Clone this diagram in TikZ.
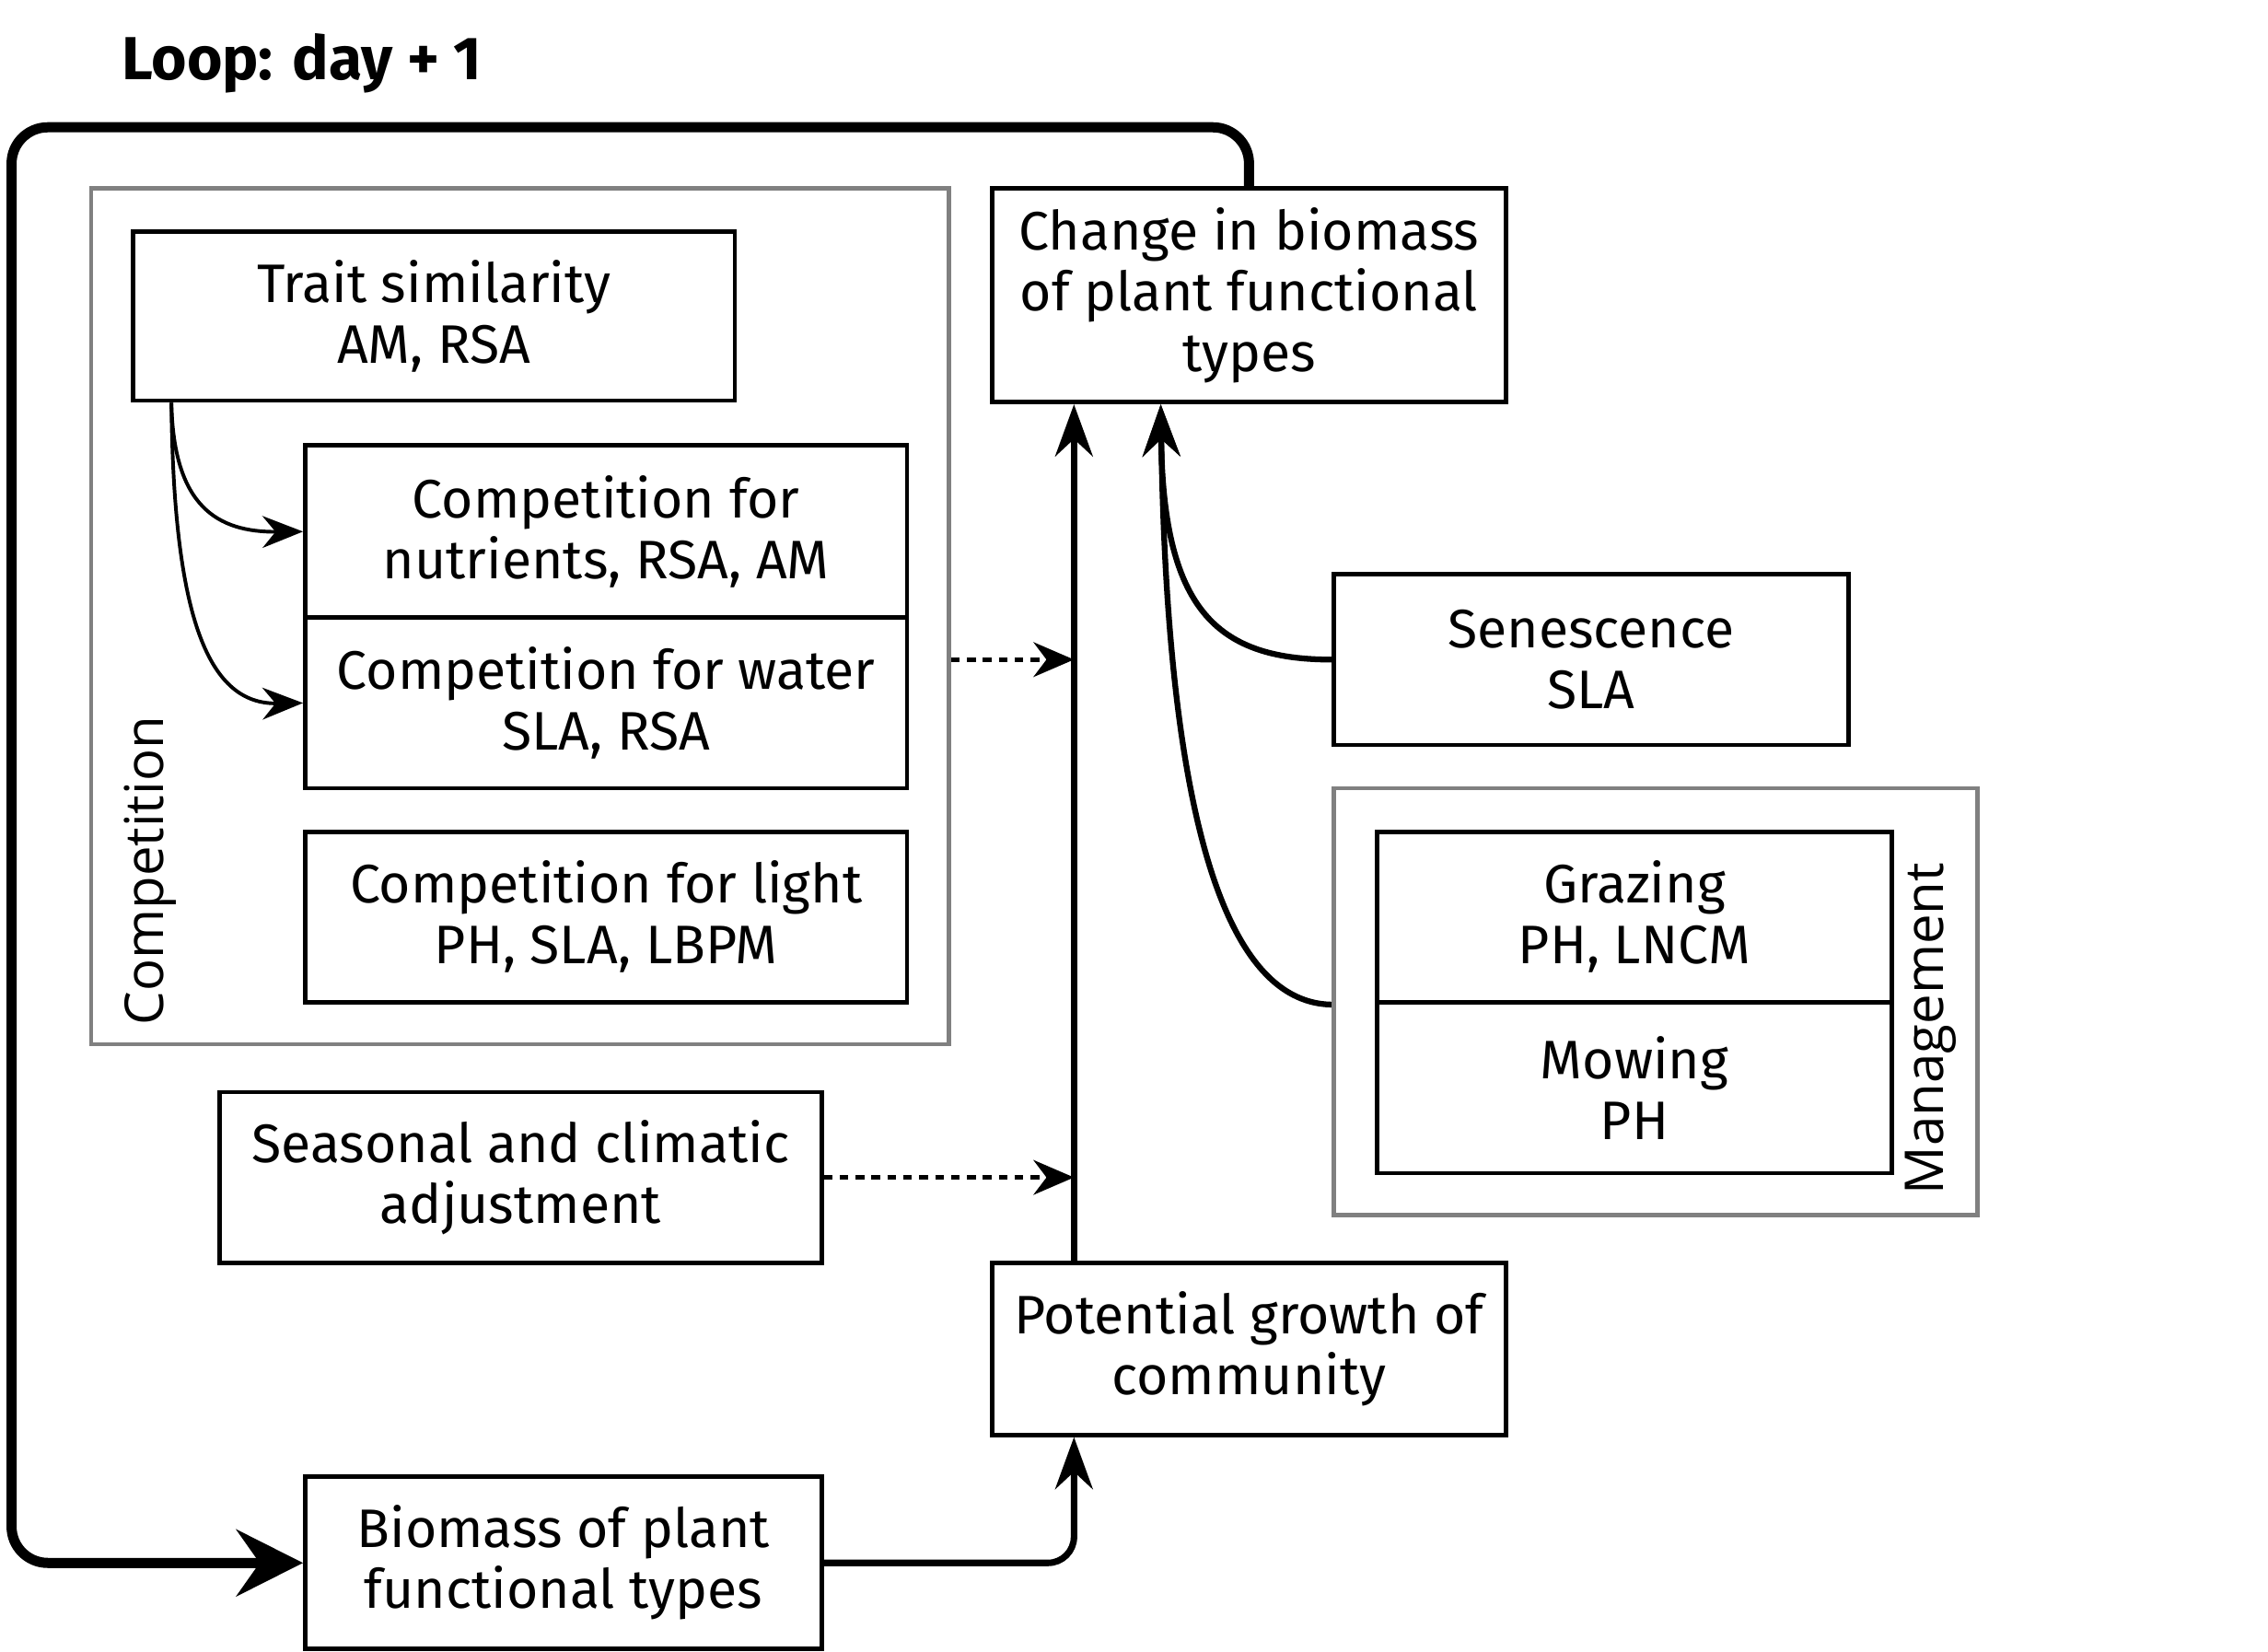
\documentclass[tikz,border=0pt]{standalone}
\usepackage{fontspec}
\setmainfont{Fira Sans}
\newfontfamily\labelfont{Open Sans}
\usetikzlibrary{arrows.meta}
\begin{document}
\begin{tikzpicture}[x=1pt,y=-1pt,
  box/.style={draw, line width=3pt, align=center, inner sep=0pt,
    font=\fontsize{37.5}{42}\selectfont},
  grp/.style={draw=black!50, line width=3pt, inner sep=0pt},
  glabel/.style={rotate=90, anchor=west, inner sep=0pt, font=\labelfont\fontsize{37}{42}\selectfont},
  mainarr/.style={line width=4.5pt, -{Stealth[length=36pt, width=26pt, inset=12pt]}},
  curvarr/.style={line width=4pt, -{Stealth[length=36pt, width=26pt, inset=12pt]}},
  thinarr/.style={line width=2.5pt, -{Stealth[length=28pt, width=22pt, inset=9pt]}},
  dotarr/.style={line width=3pt, dash pattern=on 6pt off 5pt, -{Stealth[length=28pt, width=24pt, inset=9pt]}},
  looparr/.style={line width=7pt, rounded corners=25pt, -{Stealth[length=46pt, width=46pt, inset=16pt]}}]
\useasboundingbox (0,0) rectangle (1568,1142);

% title
\node[anchor=west, inner sep=0pt, font=\bfseries\fontsize{42}{48}\selectfont] (title) at (84,44) {Loop: day + 1};

% groups
\node[grp, minimum width=593pt, minimum height=592pt] (comp) at (359.5,426) {};
\node[grp, minimum width=445pt, minimum height=295pt] (mgmt) at (1144.5,692.5) {};
\node[glabel] (complabel) at (104,709) {Competition};
\node[glabel] (mgmtlabel) at (1335,826) {Management};

% boxes
\node[box, minimum width=416pt, minimum height=117pt] (trait) at (300,218.5) {Trait similarity\\AM, RSA};
\node[box, minimum width=416pt, minimum height=119pt] (nutr) at (419,367.5) {Competition for\\nutrients, RSA, AM};
\node[box, minimum width=416pt, minimum height=118pt] (water) at (419,486) {Competition for water\\SLA, RSA};
\node[box, minimum width=416pt, minimum height=118pt] (light) at (419,634) {Competition for light\\PH, SLA, LBPM};
\node[box, minimum width=416pt, minimum height=118pt] (season) at (360,814) {Seasonal and climatic\\adjustment};
\node[box, minimum width=355pt, minimum height=148pt] (change) at (863.5,204) {Change in biomass\\of plant functional\\types};
\node[box, minimum width=355pt, minimum height=119pt] (potential) at (863.5,932.5) {Potential growth of\\community};
\node[box, minimum width=357pt, minimum height=119pt] (biomass) at (389.5,1080.5) {Biomass of plant\\functional types};
\node[box, minimum width=356pt, minimum height=118pt] (sen) at (1100,456) {Senescence\\SLA};
\node[box, minimum width=356pt, minimum height=118pt] (graz) at (1130,634) {Grazing\\PH, LNCM};
\node[box, minimum width=356pt, minimum height=118pt] (mow) at (1130,752) {Mowing\\PH};

% helper coordinates
\coordinate (vtop) at ([xshift=58pt]change.south west);
\coordinate (vtop2) at ([xshift=118pt]change.south west);
\coordinate (vbot) at ([xshift=58pt]potential.north west);
\coordinate (pin) at ([xshift=58pt]potential.south west);
\coordinate (tout) at ([xshift=28pt]trait.south west);
\coordinate (cout) at ([yshift=-30pt]comp.east);
\coordinate (mout) at (mgmt.west |- graz.south);

% connectors
\draw[mainarr] (vbot) -- (vtop);
\draw[mainarr, rounded corners=18pt] (biomass.east) -| (pin);
\draw[curvarr] (sen.west) .. controls (840,456) and (804,420) .. (vtop2);
\draw[curvarr] (mout) .. controls (835,693) and (806,520) .. (vtop2);
\draw[thinarr] (tout) .. controls (120,350) and (150,368) .. (nutr.west);
\draw[thinarr] (tout) .. controls (120,430) and (145,487) .. (water.west);
\draw[dotarr] (cout) -- (vtop |- cout);
\draw[dotarr] (season.east) -- (vtop |- season.east);
\draw[looparr] (change.north) |- (8,88) |- (biomass.west);
\end{tikzpicture}
\end{document}
